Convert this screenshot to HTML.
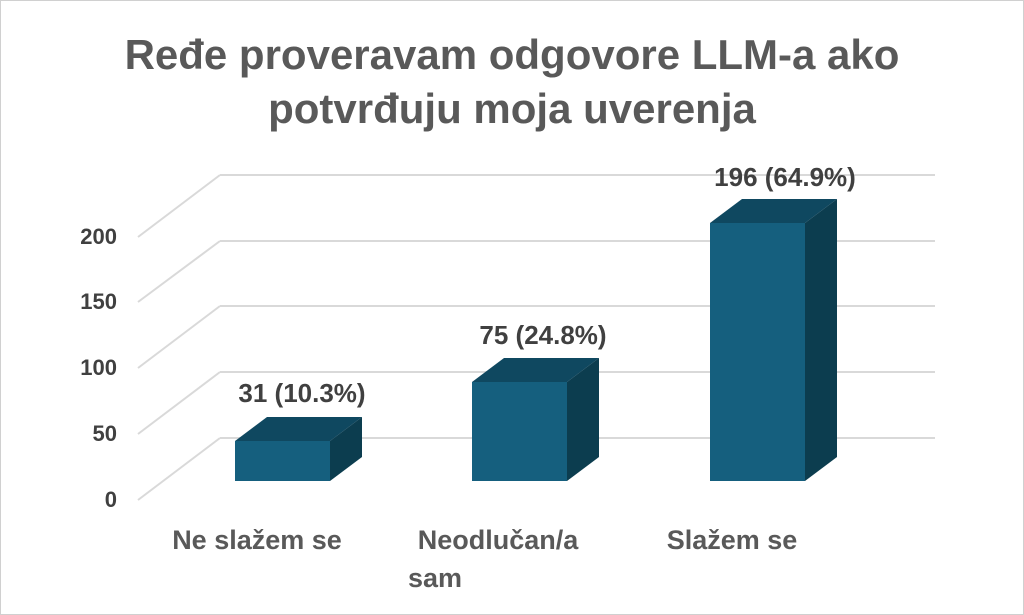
<!DOCTYPE html>
<html><head><meta charset="utf-8"><style>
body{margin:0;background:#fff}
svg{display:block;font-family:"Liberation Sans",sans-serif;font-weight:bold}
</style></head><body>
<svg width="1024" height="615" viewBox="0 0 1024 615">
<rect x="0.5" y="0.5" width="1023" height="614" fill="#fff" stroke="#d0d0d0"/>
<text x="512" y="69" text-anchor="middle" font-size="42" fill="#595959">Ređe proveravam odgovore LLM-a ako</text>
<text x="512" y="123" text-anchor="middle" font-size="42" fill="#595959">potvrđuju moja uverenja</text>
<g stroke="#d9d9d9" stroke-width="2" fill="none">
<path d="M220 175H935M220 241H935M220 306H935M220 372H935M220 438H935"/>
<path d="M138 237L220 175M138 302L220 241M138 368L220 306M138 434L220 372M138 500L220 438"/>
</g>
<g font-size="22" fill="#404040" text-anchor="end">
<text x="117" y="244">200</text><text x="117" y="309">150</text><text x="117" y="375">100</text><text x="117" y="441">50</text><text x="117" y="507">0</text>
</g>
<g>
<polygon points="235,441 267,417 362,417 330,441" fill="#0f4860"/>
<polygon points="330,441 362,417 362,457 330,481" fill="#0c3d4f"/>
<rect x="235" y="441" width="95" height="40" fill="#155f7e"/>
<polygon points="472,382 504,358 599,358 567,382" fill="#0f4860"/>
<polygon points="567,382 599,358 599,457 567,481" fill="#0c3d4f"/>
<rect x="472" y="382" width="95" height="99" fill="#155f7e"/>
<polygon points="710,223 742,199 837,199 805,223" fill="#0f4860"/>
<polygon points="805,223 837,199 837,457 805,481" fill="#0c3d4f"/>
<rect x="710" y="223" width="95" height="258" fill="#155f7e"/>
</g>
<g font-size="26" fill="#404040" text-anchor="middle">
<text x="302" y="402">31 (10.3%)</text>
<text x="543" y="344">75 (24.8%)</text>
<text x="785" y="186">196 (64.9%)</text>
</g>
<g font-size="27" fill="#595959" text-anchor="middle">
<text x="257" y="549">Ne slažem se</text>
<text x="498" y="549">Neodlučan/a</text>
<text x="408" y="587" text-anchor="start">sam</text>
<text x="732" y="549">Slažem se</text>
</g>
</svg>
</body></html>
